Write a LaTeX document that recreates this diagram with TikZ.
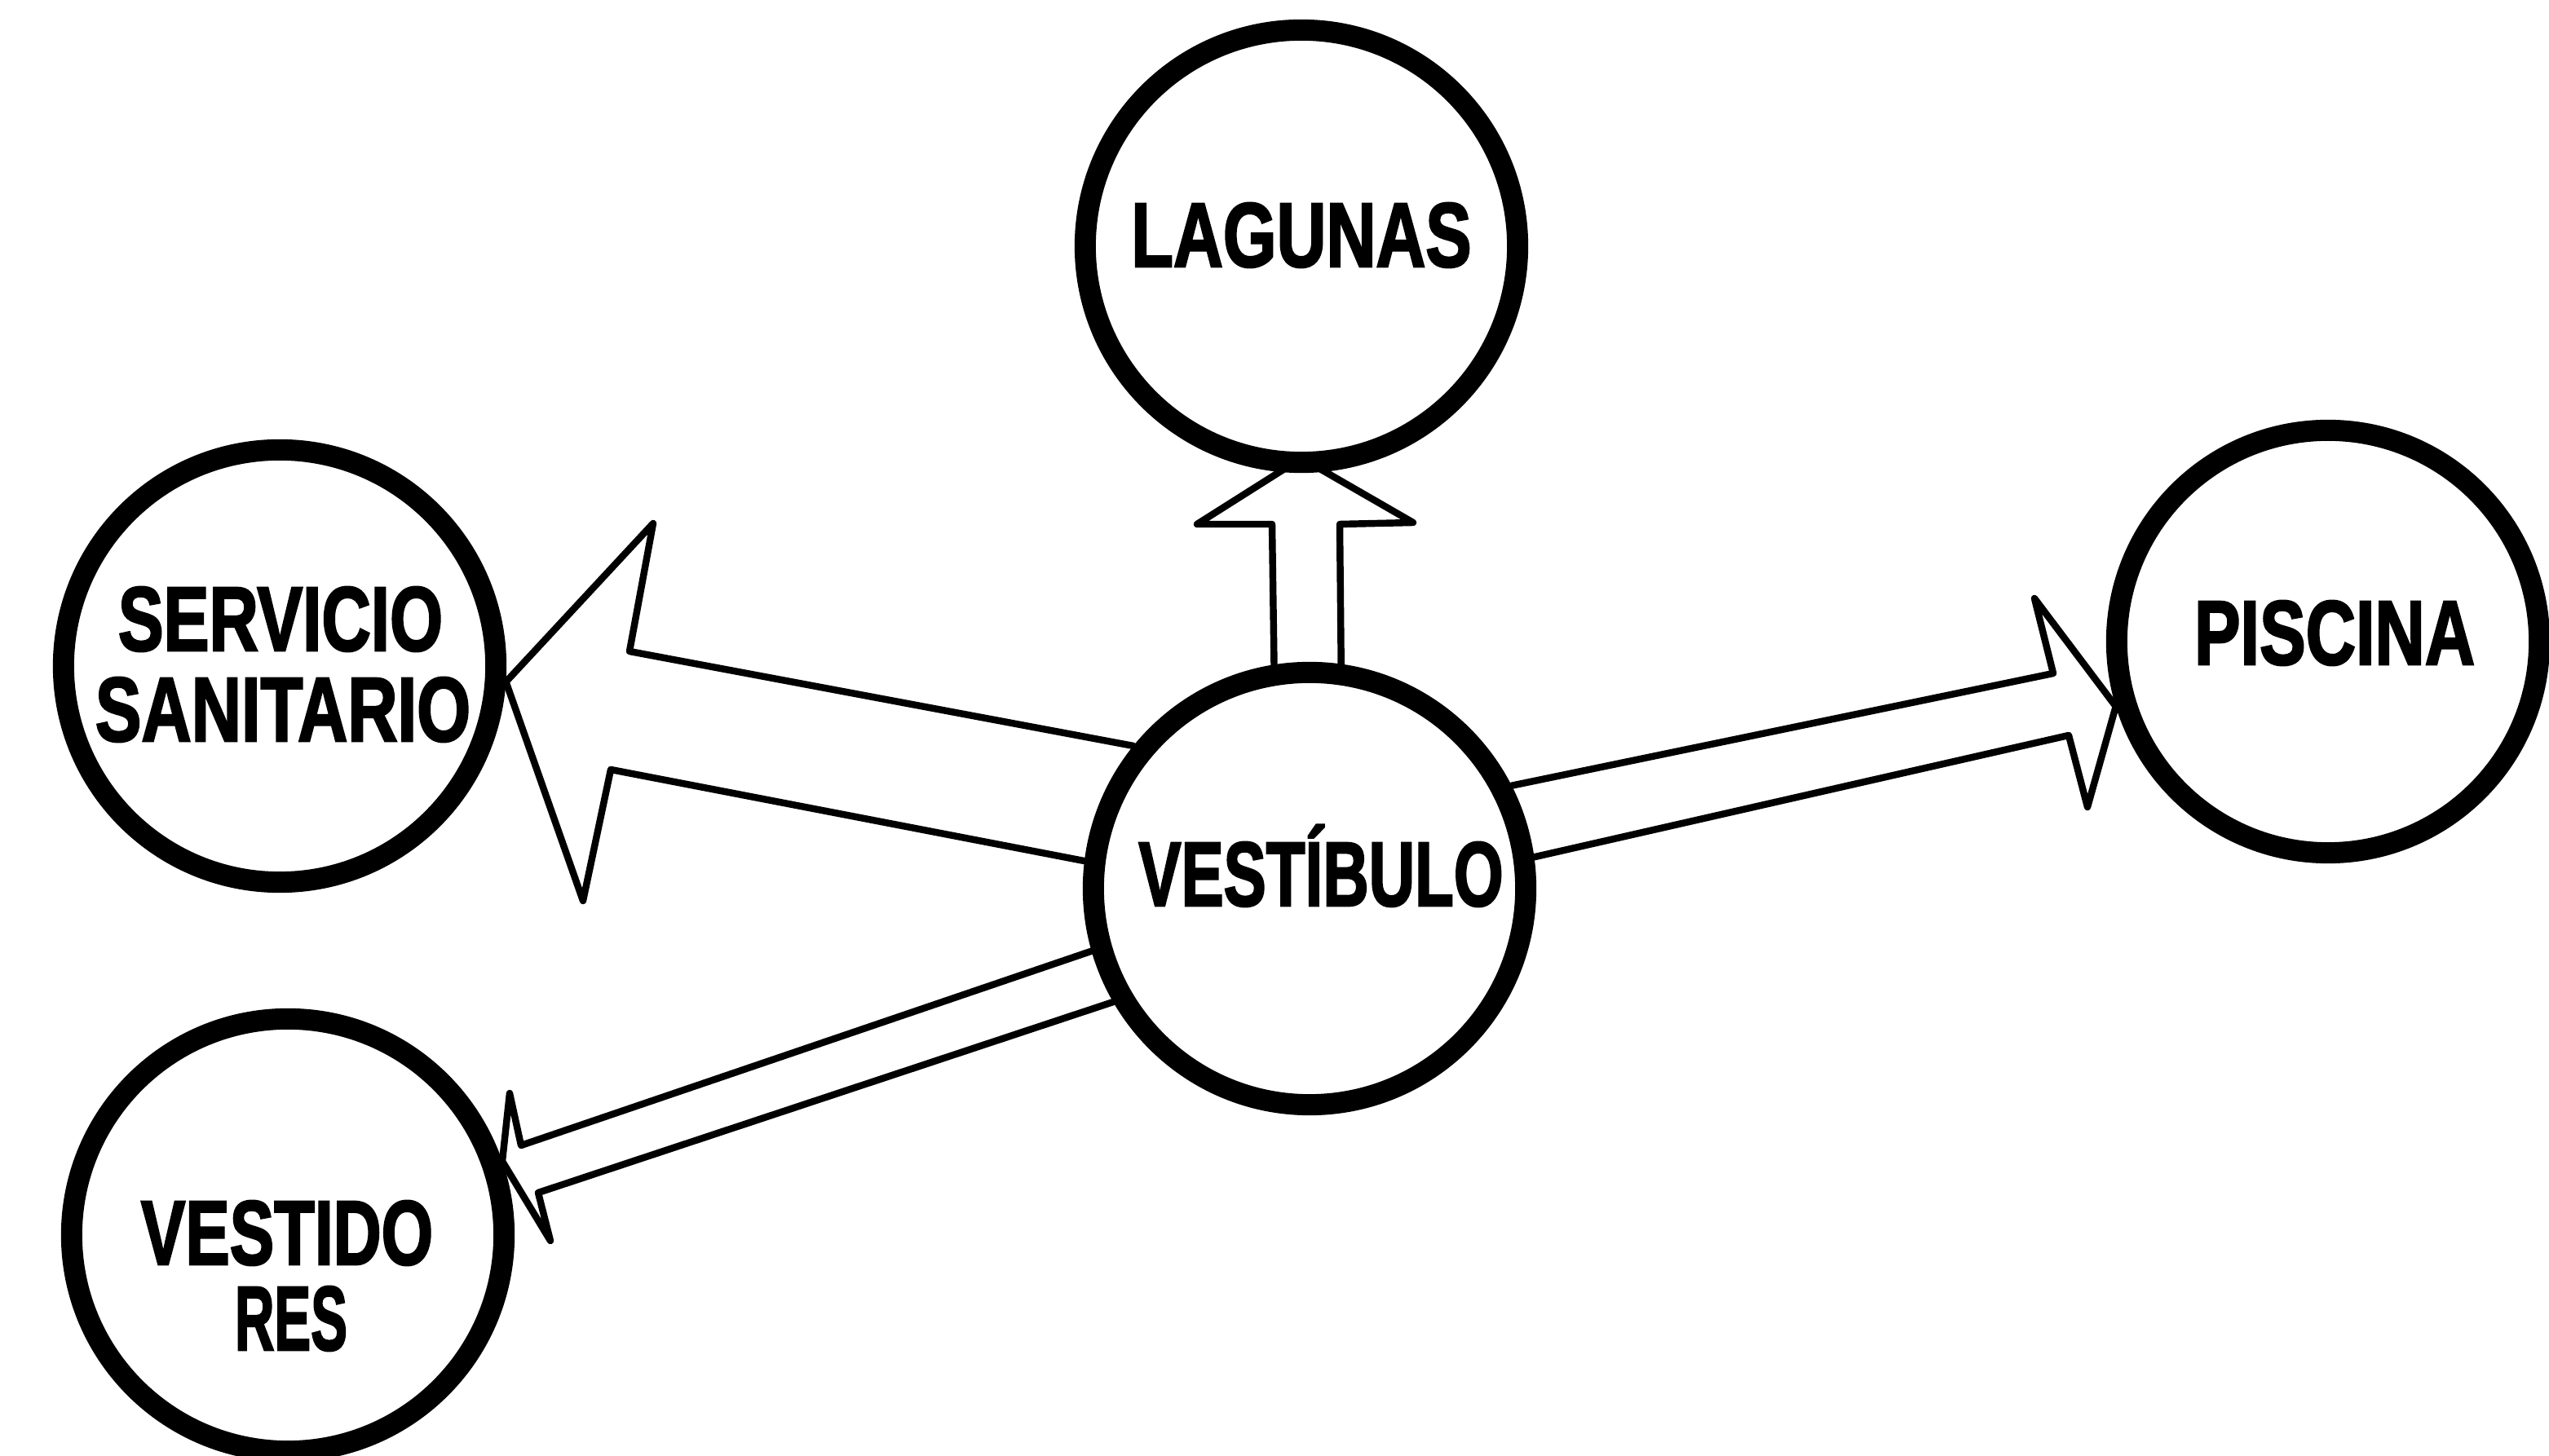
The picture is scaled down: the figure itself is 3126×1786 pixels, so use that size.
\documentclass[tikz,border=0pt]{standalone}
\usepackage{fontspec}
\usepackage{graphicx}
\usetikzlibrary{backgrounds}
\newfontfamily\lblfont{Liberation Sans}[FakeBold=2.5]
\newcommand{\fitw}[2]{\resizebox{#1}{\height}{#2}}
\begin{document}
\begin{tikzpicture}[x=0.01cm,y=-0.01cm,
  circ/.style={circle,draw=black,line width=0.26cm,fill=white,minimum size=5.30cm,inner sep=0pt},
  blk/.style={draw=black,line width=2.4pt,line join=round,line cap=round},
  lbl/.style={font=\lblfont\bfseries\fontsize{31.8pt}{38pt}\selectfont,inner sep=0pt,anchor=base}]
\useasboundingbox (0,0) rectangle (3126,1786);
% circles
\node[circ] (lag) at (1596,302) {};
\node[circ] (ves) at (1606,1090) {};
\node[circ] (ser) at (343,817) {};
\node[circ,minimum size=5.18cm] (pis) at (2855,787) {};
\node[circ] (vesr) at (353,1515) {};
% labels
\node[lbl] (tlag) at (1596,327) {\fitw{4.17cm}{LAGUNAS}};
\node[lbl] (tves) at (1620,1111) {\fitw{4.47cm}{VESTÍBULO}};
\node[lbl] (tser1) at (344,798) {\fitw{3.98cm}{SERVICIO}};
\node[lbl] (tser2) at (347,909) {\fitw{4.60cm}{SANITARIO}};
\node[lbl] (tpis) at (2863,815) {\fitw{3.44cm}{PISCINA}};
\node[lbl] (tvr1) at (352,1551) {\fitw{3.58cm}{VESTIDO}};
\node[lbl] (tvr2) at (357,1656) {\fitw{1.38cm}{RES}};
% block arrows
\begin{scope}[on background layer]
\draw[blk] (ves.141) -- (772,799) -- (801,642) -- (ser.-4) -- (715,1105) -- (749,944) -- (ves.173);
\draw[blk] (ves.27) -- (2518,826) -- (2495,734) -- (pis.197) -- (2560,990) -- (2537,902) -- (ves.8);
\draw[blk] (ves.99.5) -- (1560,643) -- (1468,643) -- (1596,562) -- (1733,641) -- (1643,643) -- (ves.82.4);
\draw[blk] (ves.196.6) -- (639,1405) -- (625,1341) -- (vesr.19) -- (675,1522) -- (660,1463) -- (ves.210);
\end{scope}
\end{tikzpicture}
\end{document}
